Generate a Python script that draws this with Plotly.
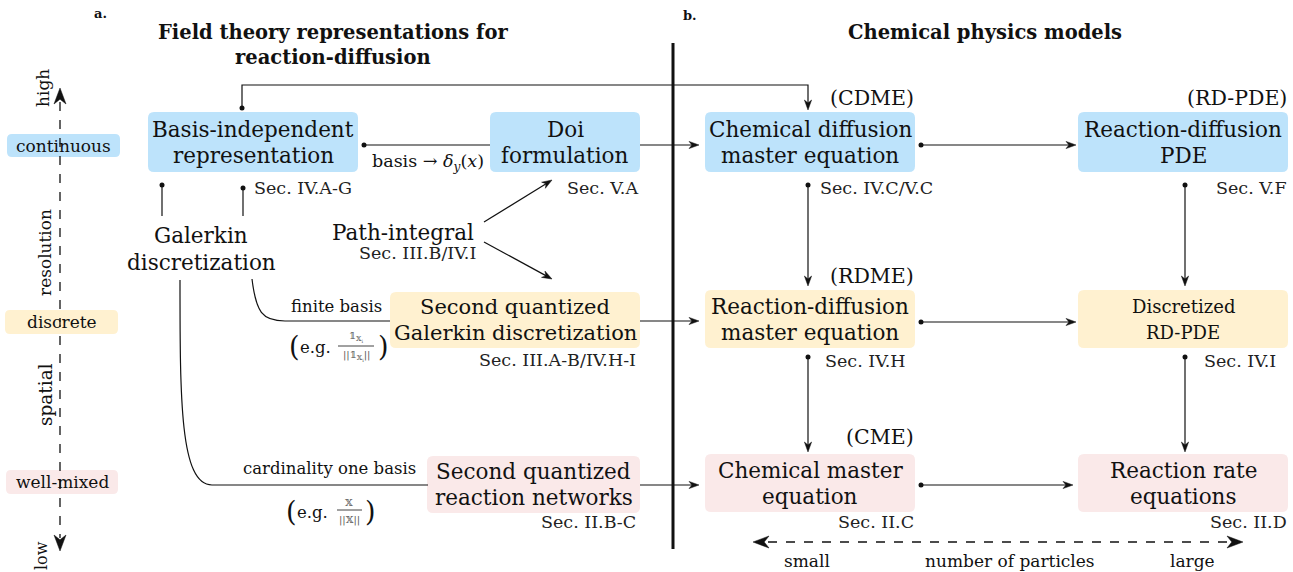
import plotly.graph_objects as go
import math

W, H = 1293, 572
FONT = "DejaVu Serif, Liberation Serif, serif"
BLUE = "#bde3fb"
YELLOW = "#fff1d0"
PINK = "#fae9e9"
INK = "#111111"

# ---- diagram content (labels) ----
box_labels = [
    ["Basis-independent", "representation"],
    ["Doi", "formulation"],
    ["Second quantized", "Galerkin discretization"],
    ["Second quantized", "reaction networks"],
    ["Chemical diffusion", "master equation"],
    ["Reaction-diffusion", "PDE"],
    ["Reaction-diffusion", "master equation"],
    ["Discretized", "RD-PDE"],
    ["Chemical master", "equation"],
    ["Reaction rate", "equations"],
]
box_fill = [BLUE, BLUE, YELLOW, PINK, BLUE, BLUE, YELLOW, YELLOW, PINK, PINK]
box_rect = [
    (148, 112, 358, 172), (490, 112, 640, 172), (390, 292, 640, 348), (427, 456, 640, 513),
    (705, 112, 915, 172), (1078, 112, 1288, 172), (705, 290, 915, 348), (1078, 290, 1288, 348),
    (705, 454, 915, 512), (1078, 454, 1288, 512),
]
box_font = [21.5, 21.5, 21, 21.5, 21.5, 21.5, 21.5, 18, 21.5, 21.5]

abbrev_labels = ["(CDME)", "(RD-PDE)", "(RDME)", "(CME)"]
abbrev_pos = [(916, 98), (1289, 98), (916, 276), (916, 437)]

sec_labels = ["Sec. IV.A-G", "Sec. V.A", "Sec. III.B/IV.I", "Sec. III.A-B/IV.H-I", "Sec. II.B-C",
              "Sec. IV.C/V.C", "Sec. V.F", "Sec. IV.H", "Sec. IV.I", "Sec. II.C", "Sec. II.D"]
sec_pos = [(252, 188, "left"), (640, 188, "right"), (478, 253, "right"), (638, 360, "right"),
           (638, 522, "right"), (818, 188, "left"), (1289, 188, "right"), (908, 361, "right"),
           (1278, 361, "right"), (916, 522, "right"), (1289, 522, "right")]

scale_labels = ["continuous", "discrete", "well-mixed"]
scale_fill = [BLUE, YELLOW, PINK]
scale_rect = [(7, 134, 120, 157), (5, 310, 118, 334), (6, 470, 118, 494)]

fig = go.Figure()
shapes = []
ann = []


def rrect(x0, y0, x1, y1, r, fill):
    p = (f"M {x0+r},{y0} L {x1-r},{y0} Q {x1},{y0} {x1},{y0+r} L {x1},{y1-r} "
         f"Q {x1},{y1} {x1-r},{y1} L {x0+r},{y1} Q {x0},{y1} {x0},{y1-r} "
         f"L {x0},{y0+r} Q {x0},{y0} {x0+r},{y0} Z")
    shapes.append(dict(type="path", path=p, fillcolor=fill, line=dict(width=0), layer="below"))


def text(x, y, s, size=16, anchor="center", angle=0, color=INK, bold=False):
    if bold:
        s = f"<b>{s}</b>"
    ann.append(dict(x=x, y=y, text=s, showarrow=False, xanchor=anchor, yanchor="middle",
                    textangle=angle, font=dict(family=FONT, size=size, color=color)))


def line(x0, y0, x1, y1, w=1.2, dash=None, color=INK):
    shapes.append(dict(type="line", x0=x0, y0=y0, x1=x1, y1=y1,
                       line=dict(width=w, color=color, dash=dash)))


def head(x0, y0, x1, y1, L=10, Wd=3.6):
    dx, dy = x1 - x0, y1 - y0
    d = math.hypot(dx, dy)
    ux, uy = dx / d, dy / d
    bx, by = x1 - ux * L, y1 - uy * L
    nx, ny = -uy, ux
    p = (f"M {x1},{y1} L {bx+nx*Wd},{by+ny*Wd} L {x1-ux*L*0.7},{y1-uy*L*0.7} "
         f"L {bx-nx*Wd},{by-ny*Wd} Z")
    shapes.append(dict(type="path", path=p, fillcolor=INK, line=dict(width=0.5, color=INK)))


def arrow(x0, y0, x1, y1, w=1.2):
    d = math.hypot(x1 - x0, y1 - y0)
    f = (d - 6) / d
    line(x0, y0, x0 + (x1 - x0) * f, y0 + (y1 - y0) * f, w)
    head(x0, y0, x1, y1)


# boxes
for (x0, y0, x1, y1), fill, lab, fs in zip(box_rect, box_fill, box_labels, box_font):
    rrect(x0, y0, x1, y1, 6, fill)
    cx = (x0 + x1) / 2
    cy = (y0 + y1) / 2
    text(cx, cy - 13, lab[0], fs)
    text(cx, cy + 13, lab[1], fs)

for (x0, y0, x1, y1), fill, lab in zip(scale_rect, scale_fill, scale_labels):
    rrect(x0, y0, x1, y1, 5, fill)
    text((x0 + x1) / 2, (y0 + y1) / 2, lab, 17)

for lab, (x, y) in zip(abbrev_labels, abbrev_pos):
    text(x, y, lab, 20.5, anchor="right")

for lab, (x, y, a) in zip(sec_labels, sec_pos):
    text(x, y, lab, 17.5, anchor=a, color="#222")

# titles
text(100, 13, "a.", 13, bold=True)
text(690, 15, "b.", 13, bold=True)
text(333, 32, "Field theory representations for", 19.5, bold=True)
text(333, 57, "reaction-diffusion", 19.5, bold=True)
text(985, 32, "Chemical physics models", 19.5, bold=True)

# side axis
line(60, 102, 60, 538, 1.3, "dash")
head(60, 120, 60, 88, 16, 6)
head(60, 520, 60, 551, 16, 6)
text(43, 88, "high", 17, angle=-90)
text(45, 253, "resolution", 17, angle=-90)
text(45, 395, "spatial", 18.5, angle=-90)
text(41, 556, "low", 16, angle=-90)

# bottom axis
line(768, 542, 1228, 542, 1.3, "dash")
head(790, 542, 753, 542, 16, 6)
head(1200, 542, 1243, 542, 16, 6)
text(807, 561, "small", 17)
text(1010, 561, "number of particles", 17)
text(1192, 561, "large", 17)

# separator
line(673, 43, 673, 549, 3)

# left panel connectors
shapes.append(dict(type="path", path="M 242,108 L 242,85 L 808,85 L 808,104",
                   line=dict(width=1.2, color=INK)))
head(808, 90, 808, 110)
line(364, 145, 490, 145)
text(428, 162, "basis → <i>δ</i><sub><i>y</i></sub>(<i>x</i>)", 17.5)
line(162, 185, 162, 216)
line(243, 188, 243, 216)
text(201, 235, "Galerkin", 21.5)
text(201, 262, "discretization", 21.5)
text(403, 232, "Path-integral", 21.5)
arrow(484, 222, 552, 180)
arrow(484, 242, 552, 279)

shapes.append(dict(type="path", path="M 252,279 C 256,312 262,321 285,321 L 390,321",
                   line=dict(width=1.2, color=INK)))
shapes.append(dict(type="path", path="M 180,280 C 180,400 180,485 212,485 L 428,485",
                   line=dict(width=1.2, color=INK)))
text(384, 306, "finite basis", 16.5, anchor="right")
text(418, 468, "cardinality one basis", 16.5, anchor="right")

# (e.g. fraction) labels
text(294, 346, "(", 27)
text(315, 347, "e.g.", 16.5)
text(356, 337, "𝟙<sub>𝕏<sub>i</sub></sub>", 10, color="#555")
line(338, 346, 374, 346, 0.8)
text(356, 356, "||𝟙<sub>𝕏<sub>i</sub></sub>||", 10, color="#555")
text(383, 346, ")", 27)

text(291, 511, "(", 27)
text(312, 512, "e.g.", 16.5)
text(349, 502, "𝕏", 10, color="#555")
line(337, 510, 362, 510, 0.8)
text(349, 520, "||𝕏||", 10, color="#555")
text(370, 511, ")", 27)

# left -> right arrows
for y in (145, 321, 485):
    arrow(640, y, 699, y)

# right panel arrows
arrow(921, 145, 1076, 145)
arrow(921, 322, 1076, 322)
arrow(921, 485, 1073, 485)
arrow(808, 185, 808, 286)
arrow(1185, 185, 1185, 286)
arrow(808, 357, 808, 452)
arrow(1185, 357, 1185, 452)

dots_x = [242, 364, 162, 243, 921, 808, 1185, 921, 808, 1185, 921]
dots_y = [108, 145, 185, 188, 145, 185, 185, 322, 357, 357, 485]
fig.add_trace(go.Scatter(x=dots_x, y=dots_y, mode="markers",
                         marker=dict(size=5, color=INK), hoverinfo="skip", showlegend=False))

fig.update_layout(
    width=W, height=H, margin=dict(l=0, r=0, t=0, b=0),
    paper_bgcolor="white", plot_bgcolor="white",
    xaxis=dict(range=[0, W], visible=False, fixedrange=True),
    yaxis=dict(range=[H, 0], visible=False, fixedrange=True),
    shapes=shapes, annotations=ann, showlegend=False,
)
fig.write_html("out.html", config={"displayModeBar": False})

with open("out.html", encoding="utf-8") as f:
    html = f.read()
html = html.replace("<head>", "<head><style>html,body{margin:0;padding:0;overflow:hidden}</style>", 1)
with open("out.html", "w", encoding="utf-8") as f:
    f.write(html)
